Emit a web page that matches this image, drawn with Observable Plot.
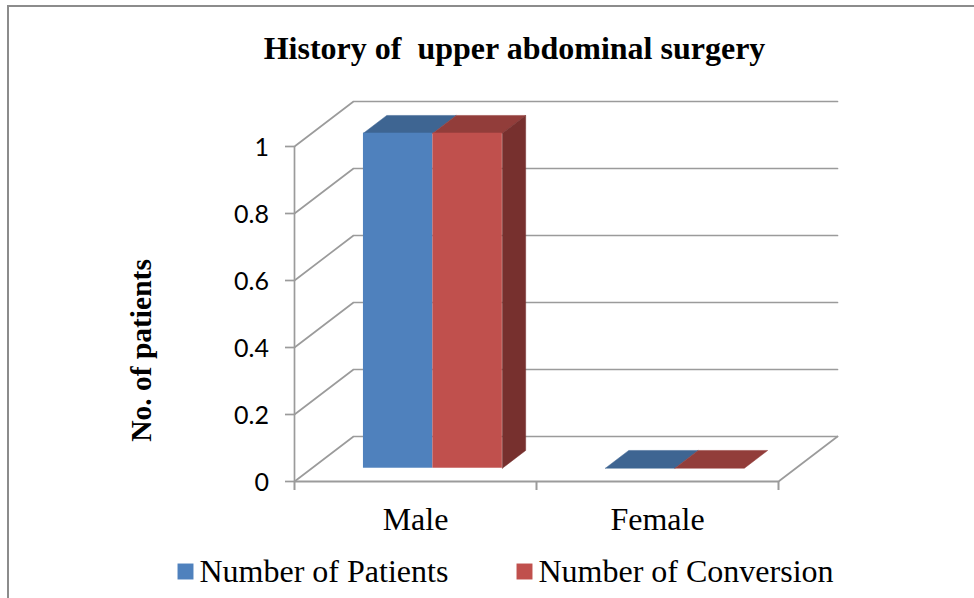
<!DOCTYPE html>
<html>
<head>
<meta charset="utf-8">
<script src="https://cdn.jsdelivr.net/npm/d3@7"></script>
<script src="https://cdn.jsdelivr.net/npm/@observablehq/plot@0.6"></script>
<style>
  html, body { margin: 0; padding: 0; background: #fff; overflow: hidden; }
  #frame { position: absolute; left: 7px; top: 5px; right: 0; bottom: 0; border-top: 2px solid #8c8c8c; border-left: 2px solid #8c8c8c; }
  #chart { position: absolute; left: 0; top: 0; }
  #chart svg { display: block; background: transparent; }
</style>
</head>
<body>
<div id="frame"></div>
<div id="chart"></div>
<script>
const title = "History of  upper abdominal surgery";
const yTitle = "No. of patients";
const categories = ["Male", "Female"];
const seriesNames = ["Number of Patients", "Number of Conversion"];
const patients = [1, 0];
const conversion = [1, 0];
const yTicks = [0, 0.2, 0.4, 0.6, 0.8, 1];
const yTickLabels = ["0", "0.2", "0.4", "0.6", "0.8", "1"];
const xTicks = [0, 1, 2];

const X0 = 294, X1 = 778, Y0 = 481, Y1 = 146;
const xUnit = (X1 - X0) / 2, yUnit = Y0 - Y1;
const dxUnit = 59 / xUnit, dyUnit = 45 / yUnit;
const tickX = 9 / xUnit, tickY = 9 / yUnit;
const serif = "Liberation Serif";
const grid = "#9b9b9b";
const P = (x, y, d) => ({x: x + d * dxUnit, y: y + d * dyUnit});

const front = 0.295, back = 0.69, half = 0.287;
const colors = [
  {front: "#4f81bd", top: "#3e6592", side: "#2f4d70"},
  {front: "#c0504d", top: "#923d3a", side: "#77302e"}
];

const marks = [];

// walls and floor
const wall = yTicks.flatMap((t, i) => [P(0, t, 0), P(0, t, 1), P(2, t, 1)].map(p => ({...p, z: i})));
marks.push(Plot.line(wall, {x: "x", y: "y", z: "z", stroke: grid, strokeWidth: 1.7}));
marks.push(Plot.line([P(2, 0, 0), P(2, 0, 1)], {x: "x", y: "y", stroke: grid, strokeWidth: 1.7}));
marks.push(Plot.ruleY([0], {x1: 0, x2: 2, stroke: grid, strokeWidth: 2}));
marks.push(Plot.ruleX([0], {y1: 0, y2: 1, stroke: grid, strokeWidth: 1.7}));
marks.push(Plot.ruleY(yTicks, {x1: -tickX, x2: 0, stroke: grid, strokeWidth: 1.7}));
marks.push(Plot.ruleX(xTicks, {y1: -tickY, y2: 0, stroke: grid, strokeWidth: 2}));

// bars
[patients, conversion].forEach((values, s) => {
  const c = colors[s];
  values.forEach((v, i) => {
    const l = i + 0.5 + (s - 1) * half, r = l + half;
    marks.push(Plot.line([P(l, v, front), P(l, v, back), P(r, v, back), P(r, v, front), P(l, v, front)],
      {x: "x", y: "y", fill: c.top, stroke: c.top, strokeWidth: 0.5}));
    if (s === 1 && v > 0) {
      marks.push(Plot.line([P(r, 0, front), P(r, 0, back), P(r, v, back), P(r, v, front), P(r, 0, front)],
        {x: "x", y: "y", fill: c.side, stroke: c.side, strokeWidth: 0.5}));
    }
    if (v > 0) {
      const a = P(l, 0, front), b = P(r, v, front);
      marks.push(Plot.rect([0], {x1: () => a.x, x2: () => b.x, y1: () => a.y, y2: () => b.y, fill: c.front}));
    }
  });
});

// tick labels
marks.push(Plot.text(yTicks, {x: 0, y: d => d, text: (d, i) => yTickLabels[i], textAnchor: "end", dx: -25.5, dy: 1.5, fontFamily: "Lato", fontSize: 25, fill: "#000"}));
marks.push(Plot.text(categories, {x: (d, i) => i + 0.5, y: 0, text: d => d, dy: 38.5, fontFamily: serif, fontSize: 32, fill: "#000"}));

// title, axis title, legend
marks.push(Plot.text([title], {frameAnchor: "top-left", dx: 514, dy: 48, textAnchor: "middle", lineAnchor: "middle", fontFamily: serif, fontWeight: "bold", fontSize: 32, fill: "#000"}));
marks.push(Plot.text([yTitle], {frameAnchor: "top-left", dx: 141, dy: 350, rotate: -90, textAnchor: "middle", lineAnchor: "middle", fontFamily: serif, fontWeight: "bold", fontSize: 29.5, fill: "#000"}));
[177, 516].forEach((px, s) => {
  marks.push(Plot.dot([seriesNames[s]], {frameAnchor: "top-left", dx: px + 8, dy: 571, symbol: "square", r: 9, fill: colors[s].front, stroke: "none"}));
  marks.push(Plot.text([seriesNames[s]], {frameAnchor: "top-left", dx: px + 22, dy: 571.5, textAnchor: "start", lineAnchor: "middle", fontFamily: serif, fontSize: 32, fill: "#000"}));
});

const chart = Plot.plot({
  width: 974, height: 598,
  marginTop: 0, marginRight: 0, marginBottom: 0, marginLeft: 0,
  style: {background: "transparent"},
  x: {type: "linear", domain: [0, 2], range: [X0, X1], axis: null},
  y: {type: "linear", domain: [0, 1], range: [Y0, Y1], axis: null},
  marks
});
document.getElementById("chart").appendChild(chart);
</script>
</body>
</html>
